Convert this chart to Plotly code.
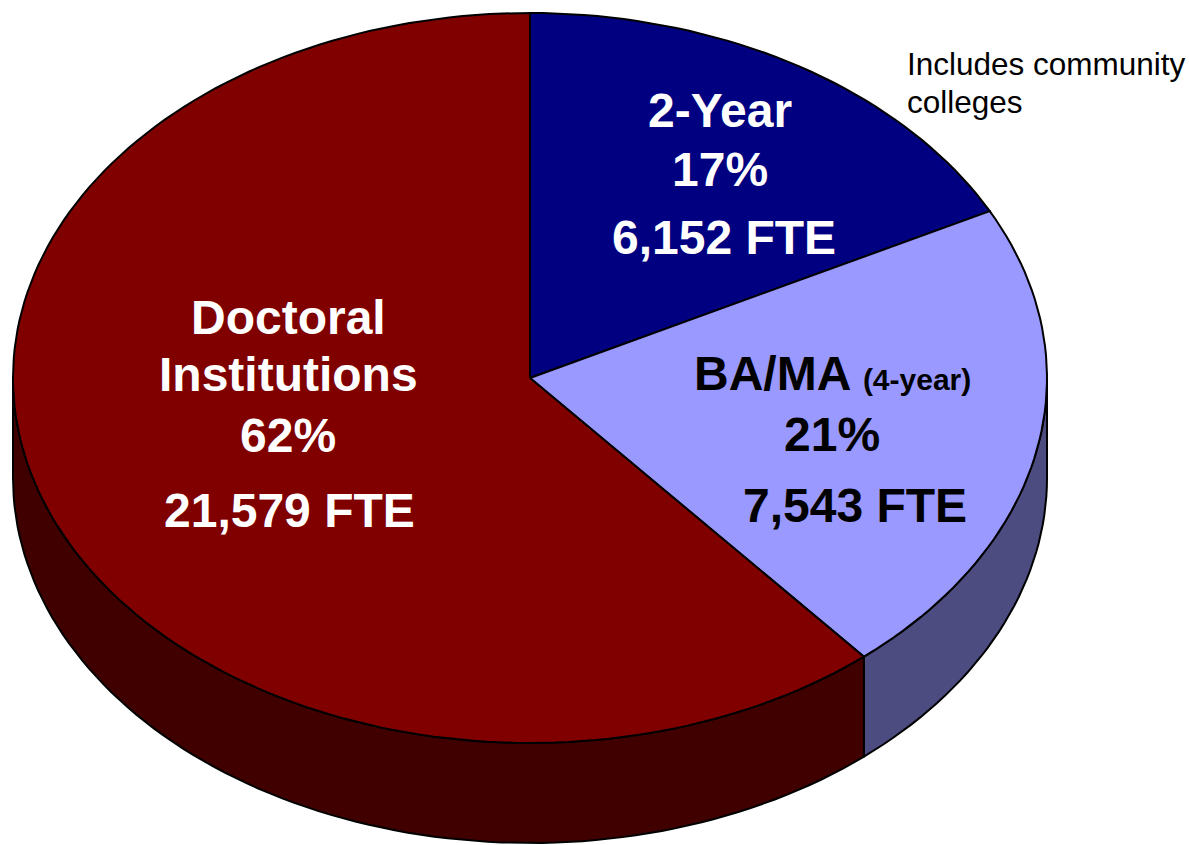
import numpy as np
import plotly.graph_objects as go

# ---- data ----
categories = ["2-Year", "BA/MA", "Doctoral Institutions"]
fte = [6152, 7543, 21579]
pct_labels = ["17%", "21%", "62%"]
fte_labels = ["6,152 FTE", "7,543 FTE", "21,579 FTE"]
top_colors = ["#000080", "#9999FF", "#800000"]
side_colors = ["#000040", "#4C4C80", "#400000"]

# ---- geometry of the 3-D pie (pixel space) ----
W, H = 1189, 845
CX, CY, RX, RY, DEPTH = 530, 378, 517, 365, 100

total = float(sum(fte))
fracs = [v / total for v in fte]
bounds = np.concatenate([[0.0], np.cumsum(fracs)]) * 2 * np.pi


def arc(t0, t1, dy=0.0, n=240):
    t = np.linspace(t0, t1, max(2, int(n * (t1 - t0) / (2 * np.pi)) + 2))
    return CX + RX * np.sin(t), CY - RY * np.cos(t) + dy


fig = go.Figure()
LINE = dict(color="black", width=2)

# side walls (front half only)
for i in range(len(fte)):
    lo = max(bounds[i], np.pi / 2)
    hi = min(bounds[i + 1], 3 * np.pi / 2)
    if lo < hi:
        xt, yt = arc(lo, hi)
        xb, yb = arc(lo, hi, DEPTH)
        xs = np.concatenate([xt, xb[::-1], xt[:1]])
        ys = np.concatenate([yt, yb[::-1], yt[:1]])
        fig.add_trace(go.Scatter(x=xs, y=ys, mode="lines", fill="toself",
                                 fillcolor=side_colors[i], line=LINE,
                                 hoverinfo="skip", showlegend=False))

# top faces
for i in range(len(fte)):
    xa, ya = arc(bounds[i], bounds[i + 1])
    xs = np.concatenate([[CX], xa, [CX]])
    ys = np.concatenate([[CY], ya, [CY]])
    fig.add_trace(go.Scatter(x=xs, y=ys, mode="lines", fill="toself",
                             fillcolor=top_colors[i], line=LINE,
                             name=categories[i], hoverinfo="skip",
                             showlegend=False))

FONT = "Liberation Sans, Arial, sans-serif"
BIG = 48


def label(text, x, baseline, color, size=BIG, weight=700, xanchor="center"):
    fig.add_annotation(x=x, y=baseline - 0.36 * size, text=text,
                       xref="x", yref="y", showarrow=False,
                       xanchor=xanchor, yanchor="middle",
                       font=dict(family=FONT, size=size, color=color,
                                 weight=weight))


# 2-Year
label("2-Year", 720, 128, "white")
label(pct_labels[0], 720, 187, "white")
label(fte_labels[0], 724, 255, "white")
# BA/MA
label("BA/MA <span style='font-size:30px'>(4-year)</span>", 832, 391, "black")
label(pct_labels[1], 832, 452, "black")
label(fte_labels[1], 855, 523, "black")
# Doctoral
label("Doctoral", 288, 335, "white")
label("Institutions", 288, 392, "white")
label(pct_labels[2], 288, 453, "white")
label(fte_labels[2], 289, 528, "white")
# note
label("Includes community", 905, 75, "black", size=31.5, weight=400, xanchor="left")
label("colleges", 905, 113, "black", size=31.5, weight=400, xanchor="left")

fig.update_layout(
    width=W, height=H,
    margin=dict(l=0, r=0, t=0, b=0),
    paper_bgcolor="white", plot_bgcolor="white",
    xaxis=dict(range=[0, W], visible=False, fixedrange=True),
    yaxis=dict(range=[H, 0], visible=False, fixedrange=True),
)

fig.write_html("out.html", config={"displayModeBar": False},
               post_script="document.body.style.margin='0';")
